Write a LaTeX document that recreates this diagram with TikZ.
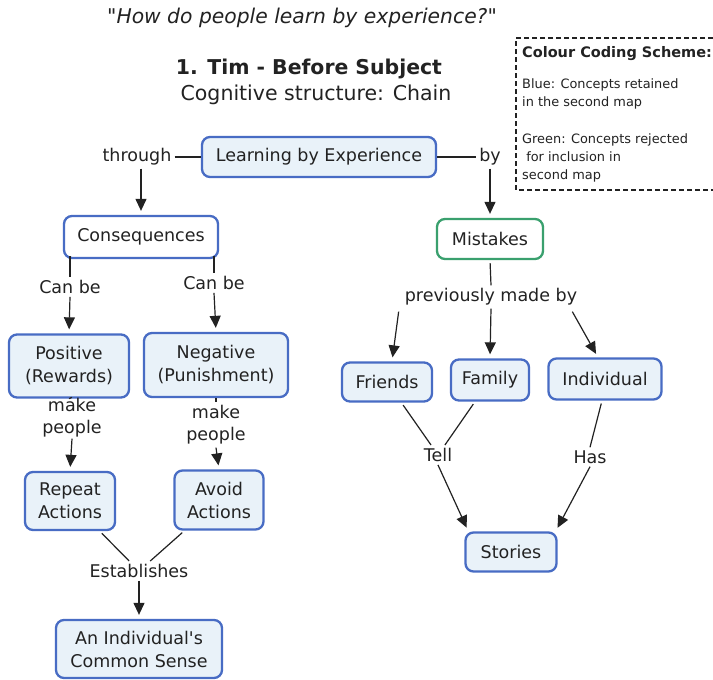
\documentclass[tikz,border=0pt]{standalone}
\usepackage{fontspec}
\setmainfont{DejaVu Sans}
\usetikzlibrary{arrows.meta}

\definecolor{cmblue}{RGB}{72,108,196}
\definecolor{cmfill}{RGB}{233,242,249}
\definecolor{cmgreen}{RGB}{58,160,110}
\definecolor{ink}{RGB}{34,34,34}

\tikzset{
  concept/.style={draw=cmblue, fill=cmfill, line width=2.3pt, rounded corners=8pt,
    align=center, text=ink, font=\fontsize{17.5}{23}\selectfont, inner sep=2pt},
  plainconcept/.style={concept, fill=white},
  rejected/.style={concept, draw=cmgreen, fill=white},
  linkword/.style={align=center, text=ink, font=\fontsize{17.5}{22}\selectfont, inner sep=3pt},
  link/.style={draw=ink, line width=1.2pt},
  linkarrow/.style={link, -{Triangle[width=11pt,length=12pt]}, shorten >=4pt},
  legendtext/.style={anchor=north west, align=left, text=ink, inner sep=0pt,
    font=\fontsize{12.9}{18}\selectfont},
}

\begin{document}
\begin{tikzpicture}[x=1pt, y=-1pt]
\fill[white] (0,0) rectangle (713,680);
\useasboundingbox (0,0) rectangle (713,680);

% headings
\node[text=ink, font=\fontsize{20.3}{24}\selectfont\itshape] (question) at (302,18)
  {\textquotedbl How do people learn by experience?\textquotedbl};
\node[text=ink, font=\fontsize{20.4}{24}\selectfont\bfseries] (title) at (309,69)
  {1. Tim - Before Subject};
\node[text=ink, font=\fontsize{20.5}{24}\selectfont] (subtitle) at (316,95)
  {Cognitive structure: Chain};

% colour key
\draw[ink, line width=1.2pt, dash pattern=on 5pt off 3pt]
  (713,38) -- (516,38) -- (516,190) -- (713,190);
\node[anchor=base west, inner sep=0pt, text=ink, font=\fontsize{14.5}{18}\selectfont\bfseries]
  (keyhead) at (522,57) {Colour Coding Scheme:};
\node[legendtext] (keyblue) at (522,78)
  {Blue: Concepts retained\\in the second map};
\node[legendtext] (keygreen) at (522,133)
  {Green: Concepts rejected\\\ for inclusion in\\second map};

% concepts
\node[concept, minimum width=234pt, minimum height=40pt] (lbe) at (319,157) {Learning by Experience};
\node[plainconcept, minimum width=154pt, minimum height=42pt] (cons) at (141,237) {Consequences};
\node[rejected, minimum width=106pt, minimum height=40pt] (mist) at (490,239) {Mistakes};
\node[concept, minimum width=120pt, minimum height=63pt] (pos) at (69,366) {Positive\\(Rewards)};
\node[concept, minimum width=144pt, minimum height=64pt] (neg) at (216,365) {Negative\\(Punishment)};
\node[concept, minimum width=90pt, minimum height=58pt] (rep) at (70,501) {Repeat\\Actions};
\node[concept, minimum width=89pt, minimum height=59pt] (avoid) at (219,500) {Avoid\\Actions};
\node[concept, minimum width=166pt, minimum height=58pt] (common) at (139,649) {An Individual\textquotesingle s\\Common Sense};
\node[concept, minimum width=90pt, minimum height=39pt] (friends) at (387,382) {Friends};
\node[concept, minimum width=78pt, minimum height=41pt] (family) at (490,380) {Family};
\node[concept, minimum width=113pt, minimum height=41pt] (indiv) at (605,379) {Individual};
\node[concept, minimum width=91pt, minimum height=39pt] (stories) at (511,552) {Stories};

% linking phrases
\node[linkword] (through) at (137,157) {through};
\node[linkword] (by) at (490,157) {by};
\node[linkword] (canL) at (70,287) {Can be};
\node[linkword] (canR) at (214,283) {Can be};
\node[linkword, inner sep=1pt] (makeL) at (72,418) {make\\people};
\node[linkword] (makeR) at (216,425) {make\\people};
\node[linkword] (estab) at (139,571) {Establishes};
\node[linkword] (pmb) at (491,297) {previously made by};
\node[linkword] (tell) at (438,455) {Tell};
\node[linkword] (has) at (590,457) {Has};

% connectors
\draw[link] (through.east) -- (lbe.west);
\draw[link] (lbe.east) -- (by.west);
\draw[linkarrow] (through.south -| cons.north) -- (cons.north);
\draw[linkarrow] (by.south) -- (mist.north);

\draw[link] ([yshift=3pt]cons.south -| canL.north) -- (canL.north);
\draw[link] ([yshift=3pt]cons.south -| canR.north) -- (canR.north);
\draw[linkarrow] (canL.south) -- (pos.north);
\draw[linkarrow] (canR.south) -- (neg.north);

\draw[link] (pos.south) -- (makeL.north);
\draw[link] (neg.south) -- (makeR.north);
\draw[linkarrow] (makeL.south) -- (rep.north);
\draw[linkarrow] (makeR.south) -- (avoid.north);

\draw[link, shorten <=3pt] (rep) -- (estab);
\draw[link, shorten <=3pt] (avoid) -- (estab);
\draw[linkarrow] (estab.south) -- (common.north);

\draw[link, shorten <=3pt] (mist.south) -- (pmb.north);
\draw[linkarrow] ([xshift=-3pt,yshift=-3pt]pmb.south west) -- ([xshift=5pt]friends.north);
\draw[linkarrow] (pmb.south) -- (family.north);
\draw[linkarrow] ([xshift=-8pt,yshift=-3pt]pmb.south east) -- ([xshift=-7pt]indiv.north);

\draw[link, shorten <=3pt] (friends) -- (tell);
\draw[link, shorten <=3pt] (family) -- (tell);
\draw[linkarrow] (tell.south) -- ([xshift=4pt]stories.north west);
\draw[link, shorten <=3pt] ([xshift=-3pt]indiv.south) -- (has.north);
\draw[linkarrow] (has.south) -- ([xshift=-2pt]stories.north east);
\end{tikzpicture}
\end{document}
